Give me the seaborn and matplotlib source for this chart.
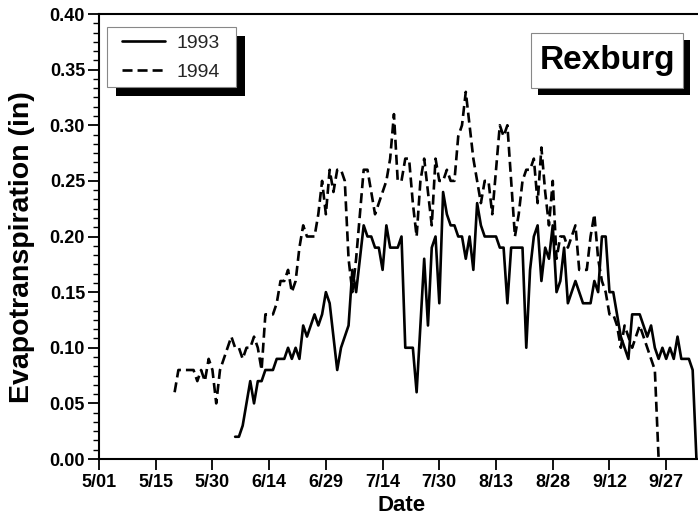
import numpy as np
import pandas as pd
import matplotlib
matplotlib.use('Agg')
import matplotlib.pyplot as plt
from matplotlib.lines import Line2D
from matplotlib.patches import Rectangle
from matplotlib.ticker import MultipleLocator, AutoMinorLocator, FormatStrFormatter
import seaborn as sns

# ---- Data (days counted from May 1) ----
start_1993 = 36
et_1993 = [0.02, 0.02, 0.03, 0.05,
           0.07, 0.05, 0.07, 0.07, 0.08, 0.08, 0.08, 0.09, 0.09, 0.09,
           0.10, 0.09, 0.10, 0.09, 0.12, 0.11, 0.12, 0.13, 0.12, 0.13,
           0.15, 0.14, 0.11, 0.08, 0.10, 0.11, 0.12, 0.17, 0.15, 0.18,
           0.21, 0.20, 0.20, 0.19, 0.19, 0.17, 0.21, 0.19, 0.19, 0.19,
           0.20, 0.10, 0.10, 0.10, 0.06, 0.12, 0.18, 0.12, 0.19, 0.20,
           0.14, 0.24, 0.22, 0.21, 0.21, 0.20, 0.20, 0.18, 0.20, 0.17,
           0.23, 0.21, 0.20, 0.20, 0.20, 0.20, 0.19, 0.19, 0.14, 0.19,
           0.19, 0.19, 0.19, 0.10, 0.17, 0.20, 0.21, 0.16, 0.19, 0.18,
           0.21, 0.15, 0.16, 0.19, 0.14, 0.15, 0.16, 0.15, 0.14, 0.14,
           0.14, 0.16, 0.15, 0.20, 0.20, 0.15, 0.15, 0.13, 0.11, 0.10,
           0.09, 0.13, 0.13, 0.13, 0.12, 0.11, 0.12, 0.10, 0.09, 0.10,
           0.09, 0.10, 0.09, 0.11, 0.09, 0.09, 0.09, 0.08, 0.00]

start_1994 = 20
et_1994 = [0.06, 0.08, 0.08, 0.08, 0.08, 0.08, 0.07, 0.08, 0.07, 0.09,
           0.08, 0.05, 0.08, 0.09, 0.10, 0.11, 0.10, 0.10, 0.09, 0.10,
           0.10, 0.11, 0.10, 0.08, 0.13, 0.13, 0.13, 0.14, 0.16, 0.16,
           0.17, 0.15, 0.16, 0.19, 0.21, 0.20, 0.20, 0.20, 0.22, 0.25,
           0.22, 0.26, 0.24, 0.26, 0.26, 0.25, 0.18, 0.15, 0.18, 0.22,
           0.26, 0.26, 0.24, 0.22, 0.23, 0.24, 0.25, 0.27, 0.31, 0.25,
           0.25, 0.27, 0.27, 0.23, 0.20, 0.25, 0.27, 0.24, 0.21, 0.27,
           0.25, 0.25, 0.26, 0.25, 0.25, 0.29, 0.30, 0.33, 0.30, 0.27,
           0.25, 0.23, 0.25, 0.25, 0.22, 0.26, 0.30, 0.29, 0.30, 0.25,
           0.20, 0.22, 0.25, 0.26, 0.26, 0.27, 0.23, 0.28, 0.24, 0.21,
           0.25, 0.18, 0.20, 0.20, 0.19, 0.20, 0.21, 0.17, 0.17, 0.17,
           0.20, 0.22, 0.18, 0.16, 0.15, 0.13, 0.13, 0.12, 0.10, 0.12,
           0.11, 0.10, 0.11, 0.12, 0.11, 0.10, 0.09, 0.08, 0.00]

tick_days = [0, 15, 30, 45, 60, 75, 90, 105, 120, 135, 150]
tick_labels = ['5/01', '5/15', '5/30', '6/14', '6/29', '7/14',
               '7/30', '8/13', '8/28', '9/12', '9/27']

df = pd.concat([
    pd.DataFrame({'day': start_1993 + np.arange(len(et_1993)), 'et': et_1993, 'year': '1993'}),
    pd.DataFrame({'day': start_1994 + np.arange(len(et_1994)), 'et': et_1994, 'year': '1994'}),
])

sns.set_style('ticks')
plt.rcParams['font.family'] = ['Liberation Sans', 'DejaVu Sans']

W, H = 698, 518
fig = plt.figure(figsize=(W / 100, H / 100), dpi=100)
ax = fig.add_axes([99 / W, 1 - 459 / H, 605 / W, 445 / H])

LW = 1.9
dash = (3.8, 1.9)
sns.lineplot(data=df, x='day', y='et', hue='year', style='year',
             palette={'1993': 'black', '1994': 'black'},
             dashes={'1993': '', '1994': dash},
             linewidth=LW, legend=False, ax=ax)

ax.set_xlim(0, 160)
ax.set_ylim(0, 0.40)
ax.set_xticks(tick_days)
ax.set_xticklabels(tick_labels)
ax.yaxis.set_major_locator(MultipleLocator(0.05))
ax.yaxis.set_major_formatter(FormatStrFormatter('%.2f'))
ax.yaxis.set_minor_locator(AutoMinorLocator(6))

for lab in ax.get_xticklabels() + ax.get_yticklabels():
    lab.set_fontweight('bold')
ax.tick_params(axis='both', which='major', direction='out', length=8, width=1.3,
               labelsize=13, pad=2, colors='black')
ax.tick_params(axis='y', which='minor', direction='out', length=4.5, width=1.0,
               colors='black')
ax.tick_params(axis='x', which='major', pad=3)

for side in ['left', 'bottom', 'top', 'right']:
    ax.spines[side].set_visible(True)
    ax.spines[side].set_linewidth(1.5)
    ax.spines[side].set_color('black')

ax.set_xlabel('Date', fontsize=16, fontweight='bold', color='black')
ax.xaxis.set_label_coords((402 - 99) / 605, (459 - 495) / 445)
ax.set_ylabel('Evapotranspiration (in)', fontsize=20.5, fontweight='bold',
              color='black', va='center')
ax.yaxis.set_label_coords((22 - 99) / 605, (459 - 247) / 445)


def px_box(x0, y0, x1, y1, face, edge, lw, z):
    # rectangle given in picture pixels (top-left origin)
    fig.patches.append(Rectangle((x0 / W, 1 - y1 / H), (x1 - x0) / W, (y1 - y0) / H,
                                 transform=fig.transFigure, facecolor=face,
                                 edgecolor=edge, linewidth=lw, zorder=z))


# legend box with black drop shadow
px_box(116, 36, 245, 96, 'black', 'black', 0, 5)
px_box(107, 27, 236, 87, 'white', '#888888', 0.8, 6)
handles = [Line2D([], [], color='black', lw=LW, label='1993'),
           Line2D([], [], color='black', lw=LW, dashes=dash, label='1994')]
leg = fig.legend(handles=handles, loc='upper left',
                 bbox_to_anchor=(122 / W, 1 - 34 / H), bbox_transform=fig.transFigure,
                 borderaxespad=0, borderpad=0, fontsize=14, handlelength=2.2,
                 handletextpad=0.6, labelspacing=0.6, frameon=False)
leg.set_zorder(7)

# station name box with black drop shadow
px_box(538, 40, 690, 95, 'black', 'black', 0, 5)
px_box(531, 33, 683, 88, 'white', '#888888', 0.8, 6)
fig.text(607 / W, 1 - 61 / H, 'Rexburg', fontsize=24, fontweight='bold',
         ha='center', va='center', color='black', zorder=7)

fig.savefig('out.png', dpi=100)
